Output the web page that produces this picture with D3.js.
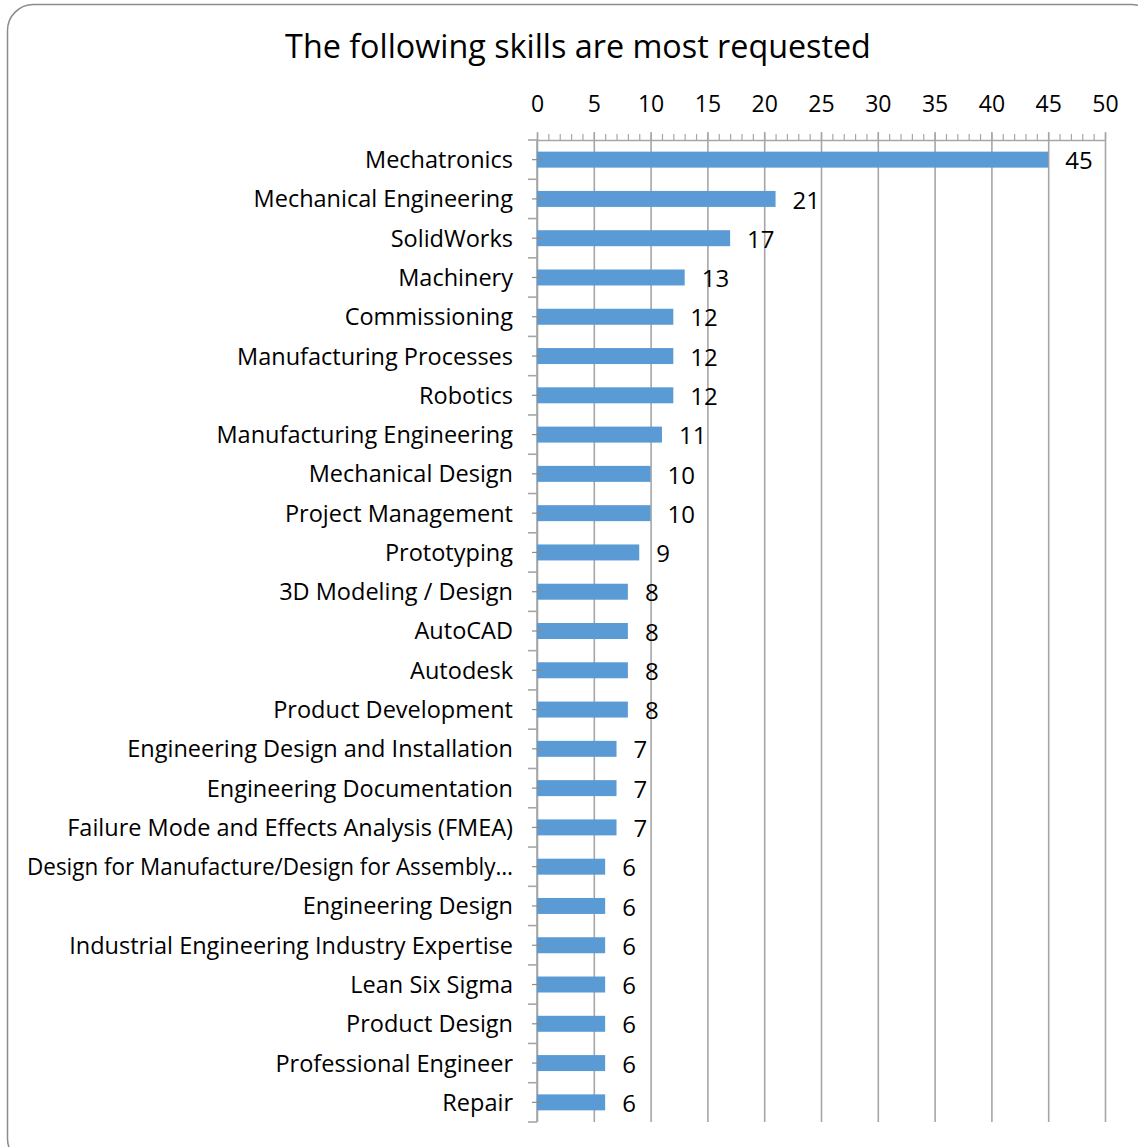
<!DOCTYPE html>
<html>
<head>
<meta charset="utf-8">
<script src="https://cdn.jsdelivr.net/npm/d3@7"></script>
<style>
  html, body { margin: 0; padding: 0; background: #ffffff; }
  svg { display: block; }
  text { font-family: "Open Sans", Lato, sans-serif; fill: #000; }
</style>
</head>
<body>
<svg id="chart" width="1138" height="1147"></svg>
<script>
// Skill names, most requested first
const categories = [
  "Mechatronics",
  "Mechanical Engineering",
  "SolidWorks",
  "Machinery",
  "Commissioning",
  "Manufacturing Processes",
  "Robotics",
  "Manufacturing Engineering",
  "Mechanical Design",
  "Project Management",
  "Prototyping",
  "3D Modeling / Design",
  "AutoCAD",
  "Autodesk",
  "Product Development",
  "Engineering Design and Installation",
  "Engineering Documentation",
  "Failure Mode and Effects Analysis (FMEA)",
  "Design for Manufacture/Design for Assembly…",
  "Engineering Design",
  "Industrial Engineering Industry Expertise",
  "Lean Six Sigma",
  "Product Design",
  "Professional Engineer",
  "Repair"
];

// Number of postings requesting each skill
const values = [45, 21, 17, 13, 12, 12, 12, 11, 10, 10, 9, 8, 8, 8, 8, 7, 7, 7, 6, 6, 6, 6, 6, 6, 6];

// Value axis ticks (major every 5, minor every 1)
const xTicks = [0, 5, 10, 15, 20, 25, 30, 35, 40, 45, 50];
const xMinorTicks = d3.range(0, 51, 1);

const titleText = "The following skills are most requested";

const svg = d3.select("#chart");

// Plot area
const plot = { left: 537, right: 1105, top: 140, bottom: 1122 };
const labelGap = 24;       // space between category labels and the axis
const labelMaxWidth = 486; // widest a category label may get

const axisGrey = "#a6a6a6";
const barBlue = "#5b9bd5";

// Chart frame with rounded corners
svg.append("rect")
  .attr("x", 7.5).attr("y", 4.5)
  .attr("width", 1150).attr("height", 1160)
  .attr("rx", 26).attr("ry", 26)
  .attr("fill", "#fff")
  .attr("stroke", "#8c8c8c")
  .attr("stroke-width", 1.5);

const x = d3.scaleLinear().domain([0, 50]).range([plot.left, plot.right]);

const pad = 0.593;
const y = d3.scaleBand()
  .domain(categories)
  .range([plot.top, plot.bottom])
  .paddingInner(pad)
  .paddingOuter(pad / 2);

// Title
svg.append("text")
  .attr("x", 578).attr("y", 58)
  .attr("text-anchor", "middle")
  .style("font-size", "32.3px")
  .text(titleText);

// Vertical gridlines at the major ticks
const grid = svg.append("g")
  .attr("transform", `translate(0,${plot.top})`)
  .call(d3.axisTop(x).tickValues(xTicks).tickSize(-(plot.bottom - plot.top)).tickFormat(""));
grid.select(".domain").remove();
grid.selectAll(".tick line").attr("stroke", axisGrey).attr("stroke-width", 1.6);

// Top value axis: minor ticks
const minorAxis = svg.append("g")
  .attr("transform", `translate(0,${plot.top})`)
  .call(d3.axisTop(x).tickValues(xMinorTicks).tickSize(6).tickSizeOuter(0).tickFormat(""));
minorAxis.select(".domain").attr("stroke", axisGrey).attr("stroke-width", 1.6);
minorAxis.selectAll(".tick line").attr("stroke", axisGrey).attr("stroke-width", 1.2);

// Top value axis: major ticks and labels
const majorAxis = svg.append("g")
  .attr("transform", `translate(0,${plot.top})`)
  .call(d3.axisTop(x).tickValues(xTicks).tickSize(8).tickSizeOuter(0).tickPadding(20));
majorAxis.select(".domain").remove();
majorAxis.selectAll(".tick line").attr("stroke", axisGrey).attr("stroke-width", 1.6);
majorAxis.selectAll(".tick text")
  .style("font-family", "'Open Sans', Lato, sans-serif")
  .style("font-size", "23px")
  .attr("fill", "#000");

// Left category axis line
svg.append("line")
  .attr("x1", x(0)).attr("x2", x(0))
  .attr("y1", plot.top).attr("y2", plot.bottom)
  .attr("stroke", axisGrey).attr("stroke-width", 1.6);

// Category boundary ticks
const boundaries = d3.range(categories.length + 1).map(i => plot.top + i * y.step());
svg.append("g").selectAll("line")
  .data(boundaries)
  .join("line")
  .attr("x1", x(0) - 9).attr("x2", x(0))
  .attr("y1", d => d).attr("y2", d => d)
  .attr("stroke", axisGrey).attr("stroke-width", 1.6);

// Bars
svg.append("g").selectAll("rect")
  .data(values)
  .join("rect")
  .attr("x", x(0))
  .attr("y", (d, i) => y(categories[i]))
  .attr("width", d => x(d) - x(0))
  .attr("height", y.bandwidth())
  .attr("fill", barBlue);

// Small cross ticks at each category centre
svg.append("g").selectAll("line")
  .data(categories)
  .join("line")
  .attr("x1", x(0) - 5).attr("x2", x(0) + 6)
  .attr("y1", d => y(d) + y.bandwidth() / 2)
  .attr("y2", d => y(d) + y.bandwidth() / 2)
  .attr("stroke", "#8c8c8c").attr("stroke-width", 1.2);

// Category labels, squeezed slightly if wider than the label column
svg.append("g").selectAll("text")
  .data(categories)
  .join("text")
  .attr("x", x(0) - labelGap)
  .attr("y", d => y(d) + y.bandwidth() / 2)
  .attr("dy", "0.36em")
  .attr("text-anchor", "end")
  .style("font-size", "23.5px")
  .text(d => d)
  .each(function () {
    const w = this.getComputedTextLength();
    if (w > labelMaxWidth) {
      d3.select(this)
        .attr("textLength", labelMaxWidth)
        .attr("lengthAdjust", "spacingAndGlyphs");
    }
  });

// Value labels
svg.append("g").selectAll("text")
  .data(values)
  .join("text")
  .attr("x", d => x(d) + 17)
  .attr("y", (d, i) => y(categories[i]) + y.bandwidth() / 2 + 1)
  .attr("dy", "0.36em")
  .attr("text-anchor", "start")
  .style("font-size", "24px")
  .text(d => d);
</script>
</body>
</html>
